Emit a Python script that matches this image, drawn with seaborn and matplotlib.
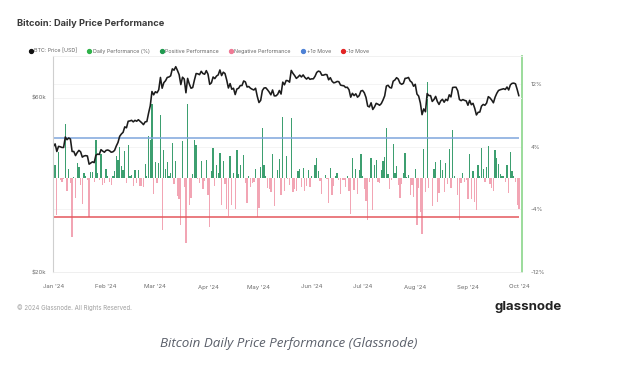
import numpy as np
import pandas as pd
import matplotlib
matplotlib.use("Agg")
import matplotlib.pyplot as plt
import matplotlib.dates as mdates
from matplotlib.lines import Line2D
import seaborn as sns

# ---- data (BTC close in $k, daily performance in %) ----
start_date = "2024-01-01"
price_jan = [44.2,44.9,42.8,44.2,44.1,43.9,43.9,46.9,46.1,46.6,46.3,42.8,42.8,41.7,42.5,43.1,42.7,41.3,41.6,41.7,41.6,39.5,39.8,40.1,39.9,41.8,42.1,42.0,43.3,42.9,42.6]
price_feb = [43.1,43.2,43.0,42.6,42.7,43.1,44.3,45.3,47.1,47.8,48.3,50.0,49.7,51.8,51.9,52.1,51.6,52.1,51.8,52.3,51.8,51.3,50.7,51.6,51.7,54.5,57.1,62.5,61.2]
price_mar = [62.4,62.0,63.2,68.3,63.8,66.1,66.9,68.3,68.5,69.0,72.1,71.5,73.1,71.4,69.5,65.3,68.4,67.6,62.0,67.9,65.5,63.8,64.1,67.2,70.0,69.9,69.5,71.0,70.0,69.7,71.3]
price_apr = [69.7,65.4,66.0,68.5,67.8,68.9,69.4,71.6,69.1,70.6,70.0,67.2,63.9,65.7,63.4,63.8,61.3,63.5,63.8,64.9,64.9,66.8,66.4,64.3,64.5,63.8,63.4,63.1,63.8,60.6]
price_may = [58.3,59.1,62.9,63.9,64.0,63.2,62.3,61.2,63.1,60.8,60.8,61.4,62.9,61.5,66.3,65.2,67.0,66.9,66.3,71.4,70.1,69.1,67.9,68.5,69.3,68.5,69.4,68.3,67.6,68.3,67.5]
price_jun = [67.7,67.7,68.8,70.5,71.1,70.8,69.3,69.3,69.6,69.5,67.3,68.2,66.7,66.0,66.2,66.6,66.5,65.1,64.9,64.8,64.1,64.2,63.2,60.3,61.8,60.9,61.6,60.3,60.9,62.7]
price_jul = [62.9,62.0,60.2,57.0,56.7,58.2,55.8,56.7,58.0,57.7,57.3,57.9,59.2,60.8,64.7,65.0,64.1,63.9,66.7,67.2,68.2,67.6,65.9,65.4,65.8,67.9,68.0,68.3,66.8,66.2,64.6]
price_aug = [65.4,61.5,60.7,58.1,54.0,56.0,55.0,61.7,60.9,60.9,58.7,59.4,60.6,58.7,57.6,58.9,59.5,58.4,59.5,59.0,61.2,60.4,64.1,64.2,64.2,62.8,59.4,59.0,59.4,59.1,58.9]
price_sep = [57.3,59.1,57.5,58.0,56.2,53.9,54.8,54.9,57.0,57.6,57.3,58.1,60.5,60.0,59.2,58.2,60.3,61.8,62.9,63.2,63.4,63.6,63.3,64.3,63.1,65.2,65.8,65.9,65.6,63.3]
price_oct = [60.8]

ret_jan = [4.5,1.6,-4.7,3.3,-0.2,-0.5,-0.1,6.9,-1.7,1.1,-0.6,-7.5,0.1,-2.6,1.9,1.4,-0.9,-3.3,0.7,0.2,-0.2,-5.0,0.8,0.8,-0.5,4.8,0.7,-0.2,3.1,-0.9,-0.7]
ret_feb = [1.2,0.2,-0.5,-0.9,0.2,0.9,2.8,2.3,4.0,1.5,1.0,3.5,-0.6,4.2,0.2,0.4,-1.0,1.0,-0.6,1.0,-1.0,-1.0,-1.2,1.8,0.2,5.4,4.8,9.5,-2.1]
ret_mar = [2.0,-0.6,1.9,8.1,-6.6,3.6,1.2,2.1,0.3,0.7,4.5,-0.8,2.2,-2.3,-2.7,-6.0,4.7,-1.2,-8.3,9.5,-3.5,-2.6,0.5,4.8,4.2,-0.1,-0.6,2.2,-1.4,-0.4,2.3]
ret_apr = [-2.2,-6.2,0.9,3.8,-1.0,1.6,0.7,3.2,-3.5,2.2,-0.8,-4.0,-4.9,2.8,-3.5,0.6,-3.9,3.6,0.5,1.7,0.0,2.9,-0.6,-3.2,0.3,-1.1,-0.6,-0.5,1.1,-5.0]
ret_may = [-3.8,1.4,6.4,1.6,0.2,-1.3,-1.4,-1.8,3.1,-3.6,0.0,1.0,2.4,-2.2,7.8,-1.7,2.8,-0.1,-0.9,7.7,-1.8,-1.4,-1.7,0.9,1.2,-1.2,1.3,-1.6,-1.0,1.0,-1.2]
ret_jun = [0.3,0.0,1.6,2.5,0.9,-0.4,-2.1,0.0,0.4,-0.1,-3.2,1.3,-2.2,-1.0,0.3,0.6,-0.2,-2.1,-0.3,-0.2,-1.1,0.2,-1.6,-4.6,2.5,-1.5,1.1,-2.1,1.0,3.0]
ret_jul = [0.3,-1.4,-2.9,-5.3,-0.5,2.6,-4.1,1.6,2.3,-0.5,-0.7,1.0,2.2,2.7,6.4,0.5,-1.4,-0.3,4.4,0.7,1.5,-0.9,-2.5,-0.8,0.6,3.2,0.1,0.4,-2.2,-0.9,-2.4]
ret_aug = [1.2,-6.0,-1.3,-4.3,-7.1,3.7,-1.8,12.2,-1.3,0.0,-3.6,1.2,2.0,-3.1,-1.9,2.3,1.0,-1.8,1.9,-0.8,3.7,-1.3,6.1,0.2,0.0,-2.2,-5.4,-0.7,0.7,-0.5,-0.3]
ret_sep = [-2.7,3.1,-2.7,0.9,-3.1,-4.1,1.7,0.2,3.8,1.1,-0.5,1.4,4.1,-0.8,-1.3,-1.7,3.6,2.5,1.8,0.5,0.3,0.3,-0.5,1.6,-1.9,3.3,0.9,0.2,-0.5,-3.5]
ret_oct = [-3.9]

sigma_up = 5.1
sigma_down = -5.0

price_ticks = [20, 60]
price_tick_labels = ["$20k", "$60k"]
pct_ticks = [-12, -4, 4, 12]
pct_tick_labels = ["-12%", "-4%", "4%", "12%"]

price = (price_jan + price_feb + price_mar + price_apr + price_may + price_jun
         + price_jul + price_aug + price_sep + price_oct)
perf = (ret_jan + ret_feb + ret_mar + ret_apr + ret_may + ret_jun
        + ret_jul + ret_aug + ret_sep + ret_oct)
dates = pd.date_range(start_date, periods=len(price), freq="D")
df = pd.DataFrame({"date": dates, "price": price, "perf": perf})

# ---- style ----
sns.set_theme(style="white")
plt.rcParams["font.family"] = ["Inter", "DejaVu Sans"]

C_POS = "#3d9f70"
C_NEG = "#f2a5b4"
C_UP = "#7fa6dc"
C_DN = "#e4575c"
C_AXR = "#93d993"

fig = plt.figure(figsize=(6.25, 3.67), dpi=100)
fig.patch.set_facecolor("white")
ax = fig.add_axes([53/625, 1-272/367, (522-53)/625, (272-56)/367])
ax2 = ax.twinx()

# bars on right axis (performance)
colors = [C_POS if v >= 0 else C_NEG for v in df["perf"]]
ax2.bar(df["date"], df["perf"], width=0.75, color=colors, linewidth=0)
ax2.hlines(sigma_up, df["date"].iloc[0], df["date"].iloc[-1], color=C_UP, lw=1.1)
ax2.hlines(sigma_down, df["date"].iloc[0], df["date"].iloc[-1], color=C_DN, lw=1.1)
ax2.set_ylim(-12, 15.57)
ax2.set_yticks(pct_ticks)
ax2.set_yticklabels(pct_tick_labels)

# price on left axis (log)
sns.lineplot(data=df, x="date", y="price", ax=ax, color="#1c1c1c", lw=1.15)
ax.set_yscale("log")
ax.set_ylim(20, 78.2)
ax.set_yticks(price_ticks)
ax.set_yticklabels(price_tick_labels)
ax.yaxis.set_minor_locator(matplotlib.ticker.NullLocator())
ax.set_zorder(ax2.get_zorder() + 1)
ax.patch.set_visible(False)

ax.set_xlim(pd.Timestamp("2023-12-31 18:00"), pd.Timestamp("2024-10-02 20:00"))
ax.xaxis.set_major_locator(mdates.MonthLocator())
ax.xaxis.set_major_formatter(mdates.DateFormatter("%b '%y"))
ax.set_xlabel("")
ax.set_ylabel("")
ax2.set_ylabel("")

# faint grid
for yv in [60]:
    ax.axhline(yv, color="#f1f1f1", lw=0.6, zorder=0)
for yv in [12, 4, -4]:
    ax2.axhline(yv, color="#f3f3f3", lw=0.6, zorder=0)

for a in (ax, ax2):
    for s in a.spines.values():
        s.set_visible(False)
ax.spines["left"].set_visible(True)
ax.spines["left"].set_color("#cfcfcf")
ax.spines["left"].set_linewidth(0.8)
ax.spines["bottom"].set_visible(True)
ax.spines["bottom"].set_color("#ececec")
ax.spines["bottom"].set_linewidth(0.6)
ax.spines["top"].set_visible(True)
ax.spines["top"].set_color("#efefef")
ax.spines["top"].set_linewidth(0.6)
ax2.spines["right"].set_visible(True)
ax2.spines["right"].set_color(C_AXR)
ax2.spines["right"].set_linewidth(1.3)

ax.tick_params(axis="both", length=0, labelsize=4.3, colors="#6b6b6b")
ax.tick_params(axis="x", pad=9)
ax.tick_params(axis="y", pad=5)
ax2.tick_params(axis="y", length=0, labelsize=4.3, colors="#6b6b6b", pad=6)

# legend
handles = [Line2D([], [], marker="o", ls="", color=c, markersize=2.8)
           for c in ["#111111", "#2fb24a", "#1f9a4f", "#f07a95", "#4f82d6", "#e32424"]]
labels = ["BTC: Price [USD]", "Daily Performance (%)", "Positive Performance",
          "Negative Performance", "+1σ Move", "-1σ Move"]
leg = fig.legend(handles, labels, loc="center left", bbox_to_anchor=(29/625, 1-51/367),
                 ncol=6, frameon=False, fontsize=3.8, handletextpad=0.35,
                 columnspacing=2.0, handlelength=0.6, borderaxespad=0, borderpad=0)
for t in leg.get_texts():
    t.set_color("#666666")

fig.text(17/625, 1-24/367, "Bitcoin: Daily Price Performance", fontsize=6.7, fontweight="bold",
         color="#3a3a3a", va="center", ha="left")
fig.text(17/625, 1-308/367, "© 2024 Glassnode. All Rights Reserved.", fontsize=4.4,
         color="#a0a0a0", va="center", ha="left")
fig.text(528/625, 1-307/367, "glassnode", fontsize=9.5, fontweight="bold",
         color="#222222", va="center", ha="center")
fig.text(289/625, 1-343/367, "Bitcoin Daily Price Performance (Glassnode)", fontsize=9.6,
         style="italic", color="#5a5f6a", va="center", ha="center",
         family=["Open Sans", "DejaVu Sans"])

fig.savefig("out.png", dpi=100, facecolor="white")
